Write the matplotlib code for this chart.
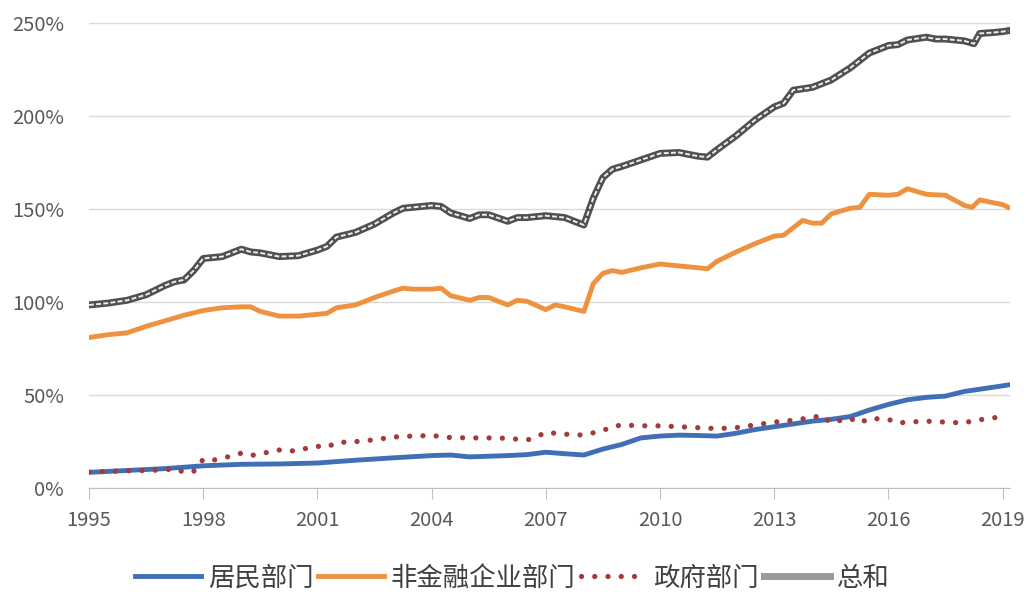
import matplotlib
matplotlib.use('Agg')
import matplotlib.pyplot as plt
from matplotlib.legend_handler import HandlerTuple
from matplotlib.ticker import FuncFormatter

plt.rcParams['font.family'] = ['Noto Sans CJK SC', 'DejaVu Sans']

# 居民部门
t_house = [1995.0, 1996.0, 1997.0, 1998.0, 1999.0, 2000.0, 2001.0, 2002.0, 2003.0, 2004.0,
           2004.5, 2005.0, 2006.0, 2006.5, 2007.0, 2007.5, 2008.0, 2008.5, 2009.0, 2009.5,
           2010.0, 2010.5, 2011.0, 2011.5, 2012.0, 2012.5, 2013.0, 2013.5, 2014.0, 2014.5,
           2015.0, 2015.5, 2016.0, 2016.5, 2017.0, 2017.5, 2018.0, 2018.5, 2019.0, 2019.15]
house = [8.5, 9.5, 10.5, 12.0, 12.8, 13.0, 13.5, 15.0, 16.3, 17.5,
         17.8, 16.8, 17.5, 18.0, 19.3, 18.5, 17.8, 21.0, 23.5, 27.0,
         28.0, 28.5, 28.3, 28.0, 29.5, 31.5, 33.0, 34.5, 36.0, 37.0,
         38.5, 42.0, 45.0, 47.5, 48.8, 49.5, 52.0, 53.5, 55.0, 55.5]

# 非金融企业部门
t_corp = [1995.0, 1995.5, 1996.0, 1996.5, 1997.0, 1997.5, 1998.0, 1998.5, 1999.0, 1999.25,
          1999.5, 2000.0, 2000.5, 2001.0, 2001.25, 2001.5, 2002.0, 2002.5, 2003.0, 2003.25,
          2003.5, 2004.0, 2004.25, 2004.5, 2005.0, 2005.25, 2005.5, 2006.0, 2006.25, 2006.5,
          2007.0, 2007.25, 2007.5, 2008.0, 2008.25, 2008.5, 2008.75, 2009.0, 2009.5, 2010.0,
          2010.5, 2011.0, 2011.25, 2011.5, 2012.0, 2012.5, 2013.0, 2013.25, 2013.75, 2014.0,
          2014.25, 2014.5, 2015.0, 2015.25, 2015.5, 2016.0, 2016.25, 2016.5, 2017.0, 2017.5,
          2018.0, 2018.2, 2018.4, 2018.75, 2019.0, 2019.15]
corp = [81.0, 82.5, 83.5, 87.0, 90.0, 93.0, 95.5, 97.0, 97.5, 97.5,
        95.0, 92.5, 92.5, 93.5, 94.0, 97.0, 98.5, 102.5, 106.0, 107.5,
        107.0, 107.0, 107.5, 103.5, 101.0, 102.5, 102.5, 98.5, 101.0, 100.5,
        96.0, 98.5, 97.5, 95.0, 110.0, 115.5, 117.0, 116.0, 118.5, 120.5,
        119.5, 118.5, 118.0, 122.0, 127.0, 131.5, 135.5, 136.0, 144.0, 142.5,
        142.5, 147.5, 150.5, 151.0, 158.0, 157.5, 158.0, 161.0, 158.0, 157.5,
        152.0, 151.0, 155.0, 153.5, 152.5, 151.0]

# 政府部门
t_gov = [1995.0, 1995.5, 1996.0, 1996.5, 1997.0, 1997.25, 1997.5, 1997.75, 1998.0, 1998.25,
         1998.5, 1999.0, 1999.25, 1999.5, 2000.0, 2000.25, 2000.5, 2001.0, 2001.25, 2001.5,
         2002.0, 2002.5, 2003.0, 2003.5, 2004.0, 2004.5, 2005.0, 2005.5, 2006.0, 2006.5,
         2006.75, 2007.0, 2007.5, 2008.0, 2008.5, 2008.75, 2009.0, 2009.5, 2010.0, 2010.5,
         2011.0, 2011.5, 2012.0, 2012.5, 2013.0, 2013.5, 2014.0, 2014.25, 2014.5, 2014.75,
         2015.0, 2015.25, 2015.5, 2016.0, 2016.25, 2016.5, 2017.0, 2017.5, 2018.0, 2018.25,
         2018.5, 2019.0]
gov = [8.6, 9.0, 9.3, 9.5, 9.8, 10.5, 8.5, 9.0, 15.5, 15.0,
       16.0, 18.8, 17.5, 18.5, 20.5, 19.8, 20.5, 22.5, 22.0, 24.5,
       25.0, 26.0, 27.5, 28.0, 28.3, 27.2, 27.0, 27.0, 26.8, 25.8,
       27.5, 30.0, 29.0, 28.5, 31.0, 33.0, 34.0, 33.5, 33.5, 33.0,
       32.5, 32.0, 32.5, 34.0, 35.5, 36.5, 38.0, 39.0, 35.0, 36.5,
       37.5, 35.0, 37.5, 37.0, 35.0, 35.5, 36.0, 35.5, 35.0, 36.5,
       37.0, 38.5]

# 总和
t_total = [1995.0, 1995.5, 1996.0, 1996.5, 1997.0, 1997.25, 1997.5, 1997.75, 1998.0, 1998.5,
           1999.0, 1999.25, 1999.5, 2000.0, 2000.5, 2001.0, 2001.25, 2001.5, 2002.0, 2002.5,
           2003.0, 2003.25, 2003.5, 2004.0, 2004.25, 2004.5, 2005.0, 2005.25, 2005.5, 2006.0,
           2006.25, 2006.5, 2007.0, 2007.5, 2007.75, 2008.0, 2008.25, 2008.5, 2008.75, 2009.0,
           2009.5, 2010.0, 2010.5, 2011.0, 2011.25, 2011.5, 2012.0, 2012.5, 2013.0, 2013.25,
           2013.5, 2014.0, 2014.5, 2015.0, 2015.5, 2016.0, 2016.25, 2016.5, 2017.0, 2017.25,
           2017.5, 2018.0, 2018.25, 2018.4, 2018.75, 2019.0, 2019.15]
total = [98.5, 99.5, 101.0, 104.0, 109.0, 111.0, 112.0, 117.0, 123.5, 124.5,
         128.5, 127.0, 126.5, 124.5, 125.0, 128.0, 130.0, 135.0, 137.5, 142.0,
         148.0, 150.5, 151.0, 152.0, 151.5, 148.0, 145.0, 147.0, 147.0, 143.5,
         145.5, 145.5, 146.5, 145.5, 143.5, 141.5, 156.0, 167.0, 171.5, 173.0,
         176.5, 180.0, 180.5, 178.5, 178.0, 182.0, 189.5, 198.0, 205.0, 207.0,
         214.0, 215.5, 219.5, 226.0, 234.0, 238.0, 238.5, 241.0, 242.5, 241.5,
         241.5, 240.5, 239.0, 244.5, 245.0, 245.5, 246.0]

years = [1995, 1998, 2001, 2004, 2007, 2010, 2013, 2016, 2019]

fig = plt.figure(figsize=(10.35, 5.96), dpi=100)
ax = fig.add_axes([0.086, 0.181, 0.89, 0.78])

l_house, = ax.plot(t_house, house, color='#3F6FB6', linewidth=3.5, label='居民部门', zorder=4)
l_corp, = ax.plot(t_corp, corp, color='#EE923F', linewidth=3.5, label='非金融企业部门', zorder=3)
l_gov, = ax.plot(t_gov, gov, color='#A33A3C', linewidth=3.8, linestyle=(0, (0.01, 2.5)),
                 dash_capstyle='round', label='政府部门', zorder=5)
# double line look: dark outline with a broken light core
l_tot_out, = ax.plot(t_total, total, color='#505050', linewidth=5.0, zorder=3)
l_tot_in, = ax.plot(t_total, total, color='#EDEDED', linewidth=1.4,
                    linestyle=(0, (2.5, 1.2)), zorder=3)

ax.set_xlim(1995, 2019.2)
ax.set_ylim(0, 250)
ax.set_yticks([0, 50, 100, 150, 200, 250])
ax.yaxis.set_major_formatter(FuncFormatter(lambda v, p: f'{v:.0f}%'))
ax.set_xticks(years)
ax.set_xticklabels([str(y) for y in years])
ax.grid(axis='y', color='#D9D9D9', linewidth=1)
ax.set_axisbelow(True)
for s in ['top', 'right', 'left']:
    ax.spines[s].set_visible(False)
ax.spines['bottom'].set_color('#BFBFBF')
ax.tick_params(axis='y', length=0, labelsize=14.5, labelcolor='#595959', pad=18)
ax.tick_params(axis='x', length=8, color='#BFBFBF', labelsize=14.5, labelcolor='#595959', pad=8)

fig.legend([l_house, l_corp, l_gov, l_tot_out],
           ['居民部门', '非金融企业部门', '政府部门', '总和'],
           loc='center', bbox_to_anchor=(0.495, 0.03), ncol=4, frameon=False,
           fontsize=19, labelcolor='#404040', handlelength=2.5,
           handletextpad=0.25, columnspacing=0.2)
# legend swatch for 总和 uses the same double line
fig.legends[0].legend_handles[3].set_color('#9A9A9A')

fig.savefig('out.png', dpi=100, facecolor='white')
